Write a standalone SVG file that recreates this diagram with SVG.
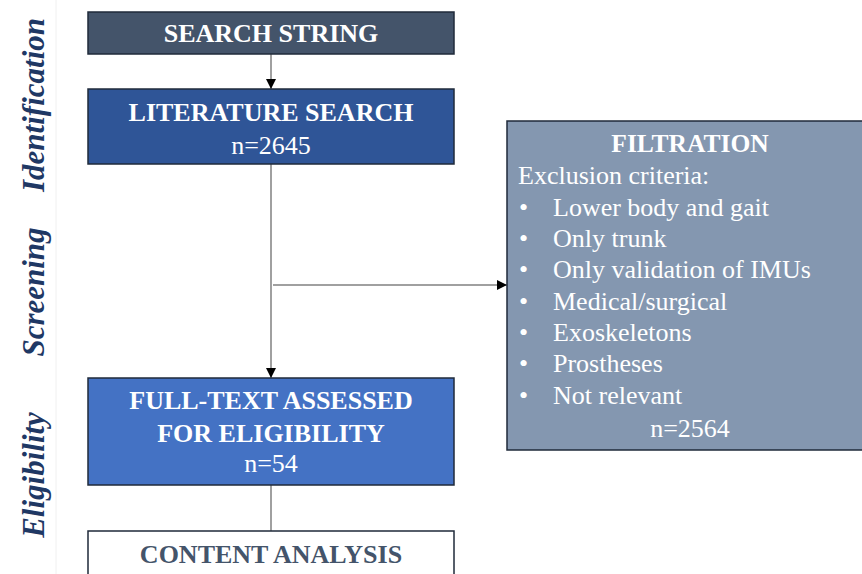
<svg xmlns="http://www.w3.org/2000/svg" width="862" height="574" viewBox="0 0 862 574">
<defs>
<marker id="ah" viewBox="0 0 10 10" refX="10" refY="5" markerWidth="10" markerHeight="10" markerUnits="userSpaceOnUse" orient="auto">
<path d="M0,0 L10,5 L0,10 z" fill="#000"/>
</marker>
<style>
.box{stroke:#1f2a3a;stroke-width:1.5}
.t{font-family:"Liberation Serif","Times New Roman",serif;fill:#fff}
.b{font-weight:bold}
.c{text-anchor:middle}
.stage{font-family:"Liberation Serif","Times New Roman",serif;font-style:italic;font-weight:bold;font-size:31px;fill:#1f3864;text-anchor:middle}
.ln{stroke:#a0a0a0;stroke-width:2;fill:none}
</style>
</defs>
<rect width="862" height="574" fill="#fff"/>
<line x1="56" y1="0" x2="56" y2="574" stroke="#f0f0f0" stroke-width="1"/>
<g id="stages">
<text class="stage" transform="translate(44,105) rotate(-90)">Identification</text>
<text class="stage" transform="translate(44,292) rotate(-90)">Screening</text>
<text class="stage" transform="translate(44,475) rotate(-90)">Eligibility</text>
</g>
<g id="connectors">
<line class="ln" x1="271" y1="54" x2="271" y2="89" marker-end="url(#ah)"/>
<line class="ln" x1="271" y1="164" x2="271" y2="378" marker-end="url(#ah)"/>
<line class="ln" x1="273" y1="285" x2="507" y2="285" marker-end="url(#ah)"/>
<line class="ln" x1="271" y1="485" x2="271" y2="531"/>
</g>
<g id="search-string">
<rect class="box" x="88" y="12" width="366" height="42" fill="#44546a"/>
<text class="t b c" x="271" y="42" font-size="26">SEARCH STRING</text>
</g>
<g id="literature-search">
<rect class="box" x="88" y="89" width="366" height="75" fill="#2f5597"/>
<text class="t b c" x="271" y="121" font-size="26">LITERATURE SEARCH</text>
<text class="t c" x="271" y="154" font-size="26">n=2645</text>
</g>
<g id="filtration">
<rect class="box" x="507" y="121" width="360" height="329" fill="#8497b0"/>
<text class="t b c" x="690" y="152" font-size="25.5">FILTRATION</text>
<text class="t" x="518" y="184" font-size="26">Exclusion criteria:</text>
<g font-size="26">
<text class="t" x="519" y="216">•</text><text class="t" x="553" y="216">Lower body and gait</text>
<text class="t" x="519" y="247">•</text><text class="t" x="553" y="247">Only trunk</text>
<text class="t" x="519" y="278">•</text><text class="t" x="553" y="278">Only validation of IMUs</text>
<text class="t" x="519" y="310">•</text><text class="t" x="553" y="310">Medical/surgical</text>
<text class="t" x="519" y="341">•</text><text class="t" x="553" y="341">Exoskeletons</text>
<text class="t" x="519" y="372">•</text><text class="t" x="553" y="372">Prostheses</text>
<text class="t" x="519" y="404">•</text><text class="t" x="553" y="404">Not relevant</text>
</g>
<text class="t c" x="690" y="437" font-size="26">n=2564</text>
</g>
<g id="full-text">
<rect class="box" x="88" y="378" width="366" height="107" fill="#4472c4"/>
<text class="t b c" x="271" y="409" font-size="26">FULL-TEXT ASSESSED</text>
<text class="t b c" x="271" y="442" font-size="26">FOR ELIGIBILITY</text>
<text class="t c" x="271" y="472" font-size="26">n=54</text>
</g>
<g id="content-analysis">
<rect class="box" x="88" y="531" width="366" height="50" fill="#fff"/>
<text class="t b c" x="271" y="563" font-size="26" style="fill:#44546a">CONTENT ANALYSIS</text>
</g>
</svg>
